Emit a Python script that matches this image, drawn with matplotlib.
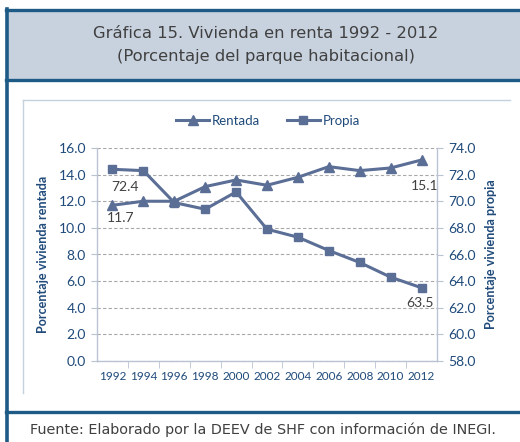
import matplotlib
matplotlib.use("Agg")
import matplotlib.pyplot as plt
from matplotlib.patches import Rectangle
from matplotlib.lines import Line2D

years = ["1992", "1994", "1996", "1998", "2000", "2002", "2004", "2006", "2008", "2010", "2012"]
rentada = [11.7, 12.0, 12.0, 13.1, 13.6, 13.2, 13.8, 14.6, 14.3, 14.5, 15.1]
propia = [72.4, 72.3, 69.9, 69.4, 70.7, 67.9, 67.3, 66.3, 65.4, 64.3, 63.5]
left_ticks = [0, 2, 4, 6, 8, 10, 12, 14, 16]
right_ticks = [58, 60, 62, 64, 66, 68, 70, 72, 74]

LINE = "#5b6e96"
TICK = "#1f4a7a"
BORDER = "#1d5b86"
FONT = "Lato"

W, H = 520, 442
fig = plt.figure(figsize=(W / 100, H / 100), dpi=100)
fig.patch.set_facecolor("white")


def fx(px):
    return px / W


def fy(py):
    return 1 - py / H


# frame: title band, borders, chart box
fig.patches.append(Rectangle((fx(7), fy(80)), 1, fy(10) - fy(80), transform=fig.transFigure,
                             facecolor="#c8d2df", edgecolor="none", zorder=0))
for y in (10, 80, 412):
    fig.add_artist(Line2D([fx(6), 1], [fy(y), fy(y)], color=BORDER, lw=2.4))
fig.add_artist(Line2D([fx(7), fx(7)], [fy(9), 0], color=BORDER, lw=2.6))
fig.add_artist(Line2D([fx(23), fx(510)], [fy(100), fy(100)], color="#c5d2de", lw=1.0))
fig.add_artist(Line2D([fx(23), fx(23)], [fy(100), fy(393)], color="#c5d2de", lw=1.0))

fig.text(fx(266), fy(34), "Gráfica 15. Vivienda en renta 1992 - 2012", ha="center", va="center",
         fontsize=11.8, color="#404040", family="DejaVu Sans")
fig.text(fx(266), fy(56), "(Porcentaje del parque habitacional)", ha="center", va="center",
         fontsize=11.8, color="#404040", family="DejaVu Sans")
fig.text(fx(263), fy(430), "Fuente: Elaborado por la DEEV de SHF con información de INEGI.",
         ha="center", va="center", fontsize=10.4, color="#404040", family="DejaVu Sans")

ax = fig.add_axes([fx(97), fy(361), fx(437) - fx(97), fy(148) - fy(361)])
ax2 = ax.twinx()
x = list(range(len(years)))

l1, = ax.plot(x, rentada, color=LINE, lw=2.2, marker="^", ms=6.5, label="Rentada", zorder=4)
l2, = ax2.plot(x, propia, color=LINE, lw=2.2, marker="s", ms=6, label="Propia", zorder=4)

ax.set_xlim(-0.5, len(years) - 0.5)
ax.set_ylim(0, 16)
ax2.set_ylim(58, 74)
ax.set_yticks(left_ticks)
ax.set_yticklabels([f"{v:.1f}" for v in left_ticks])
ax2.set_yticks(right_ticks)
ax2.set_yticklabels([f"{v:.1f}" for v in right_ticks])
ax.set_xticks(x)
ax.set_xticklabels(years)
ax.set_xticks([i + 0.5 for i in x[:-1]], minor=True)

ax.grid(axis="y", color="#a8a8a8", ls=(0, (3, 2)), lw=0.8)
for a in (ax, ax2):
    for s in a.spines.values():
        s.set_visible(False)
ax.spines["left"].set_visible(True)
ax.spines["bottom"].set_visible(True)
ax2.spines["right"].set_visible(True)
for s in (ax.spines["left"], ax.spines["bottom"], ax2.spines["right"]):
    s.set_color("#b9c3d3")
    s.set_linewidth(1.0)

ax.tick_params(axis="x", which="major", length=0, labelsize=8.5, labelcolor=TICK, pad=7)
ax.tick_params(axis="x", which="minor", length=5, color="#b9c3d3")
ax.tick_params(axis="y", length=4, color="#b9c3d3", labelsize=10, labelcolor=TICK, pad=4)
ax2.tick_params(axis="y", length=4, color="#b9c3d3", labelsize=10, labelcolor=TICK, pad=4)
for lab in ax.get_xticklabels() + ax.get_yticklabels() + ax2.get_yticklabels():
    lab.set_family(FONT)

ax.set_ylabel("Porcentaje vivienda rentada", fontsize=9.1, fontweight="bold", color=TICK,
              family=FONT, labelpad=7)
ax2.set_ylabel("Porcentaje vivienda propia", fontsize=9.1, fontweight="bold", color=TICK,
               family=FONT, labelpad=7)

# data labels for first and last points
lab_kw = dict(textcoords="offset pixels", ha="center", va="center", fontsize=10,
              color="#404040", family=FONT)
ax.annotate(f"{rentada[0]:.1f}", (x[0], rentada[0]), xytext=(8, -13), **lab_kw)
ax2.annotate(f"{propia[0]:.1f}", (x[0], propia[0]), xytext=(13, -18), **lab_kw)
ax.annotate(f"{rentada[-1]:.1f}", (x[-1], rentada[-1]), xytext=(3, -26), **lab_kw)
ax2.annotate(f"{propia[-1]:.1f}", (x[-1], propia[-1]), xytext=(-2, -15), **lab_kw)

leg = fig.legend(handles=[l1, l2], loc="center", bbox_to_anchor=(fx(268), fy(121)), ncol=2,
                 frameon=False, handlelength=2.5, handletextpad=0.2, columnspacing=2.0,
                 prop={"family": FONT, "size": 9.5})
for t in leg.get_texts():
    t.set_color(TICK)

fig.savefig("out.png", dpi=100)
